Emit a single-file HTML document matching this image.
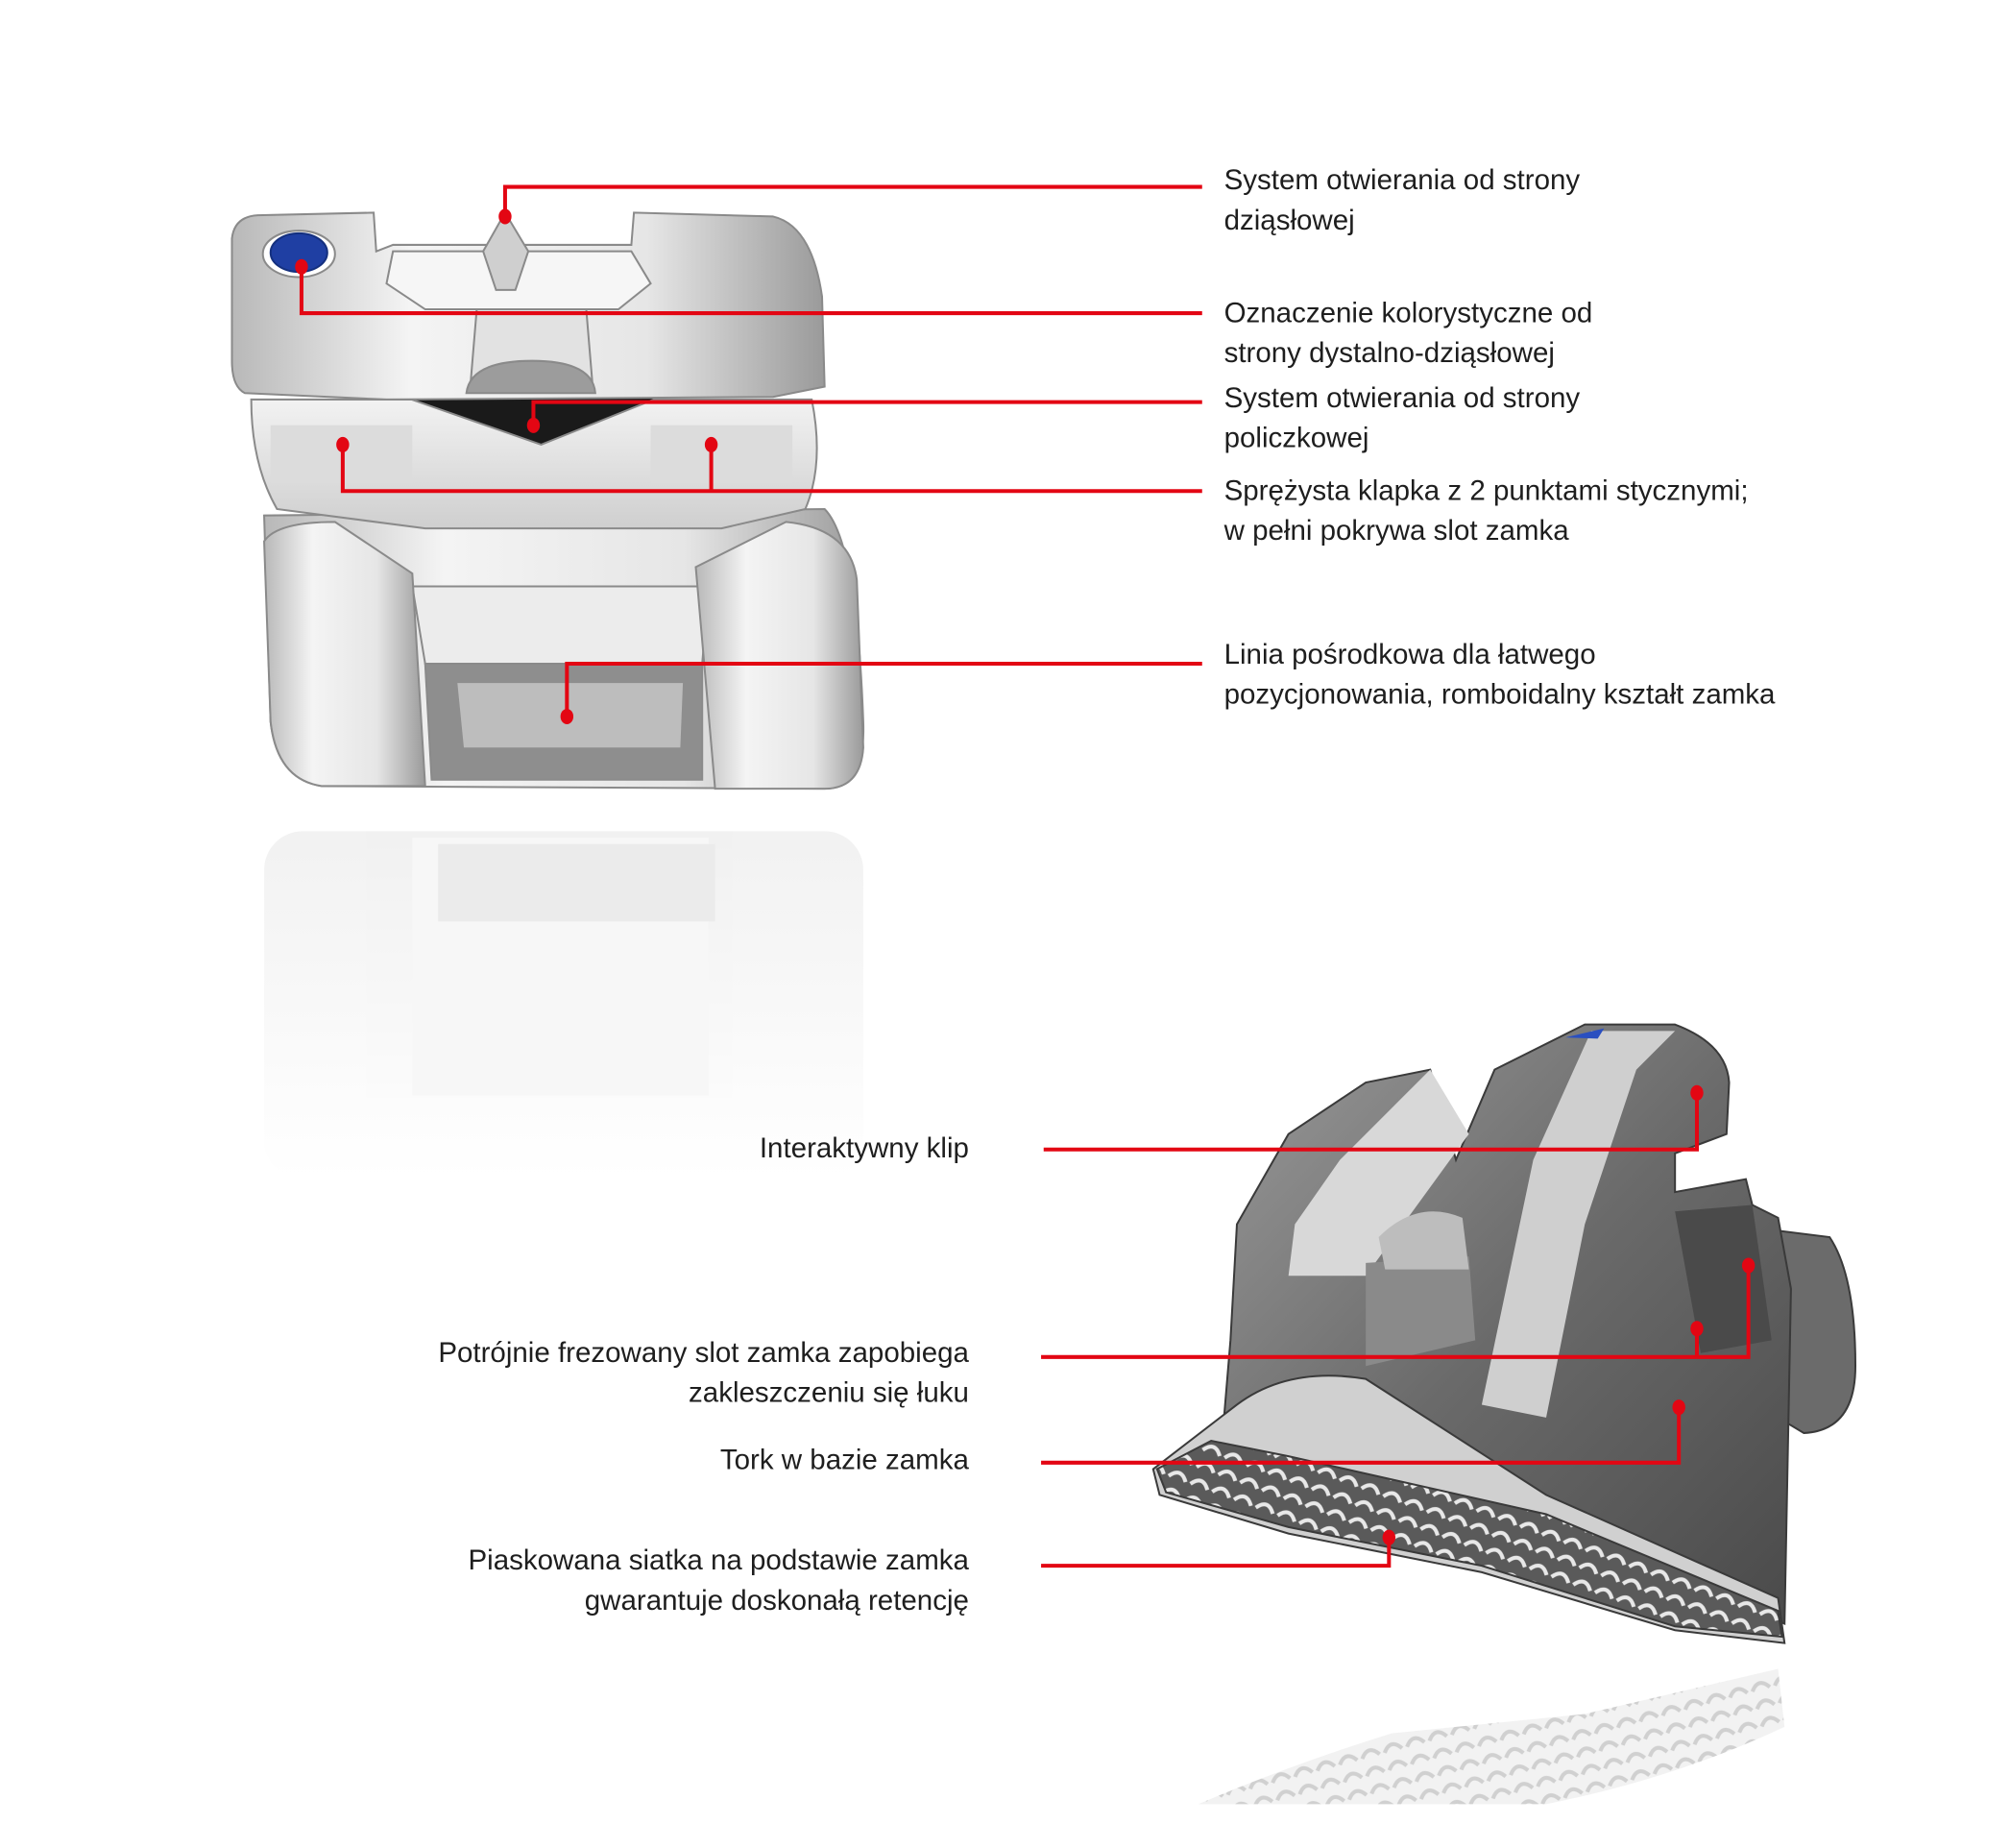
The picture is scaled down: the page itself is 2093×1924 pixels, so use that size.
<!DOCTYPE html>
<html><head><meta charset="utf-8"><style>
html,body{margin:0;padding:0;background:#fff;}
svg{display:block;}
text{font-family:"Liberation Sans",sans-serif;font-size:22px;fill:#1e1e1e;}
</style></head><body>
<svg width="2093" height="1924" viewBox="0 0 1560 1434" xmlns="http://www.w3.org/2000/svg">
<defs>
<linearGradient id="lg" x1="0" y1="0" x2="1" y2="0">
<stop offset="0" stop-color="#b8b8b8"/><stop offset="0.3" stop-color="#f4f4f4"/><stop offset="0.7" stop-color="#e6e6e6"/><stop offset="1" stop-color="#9a9a9a"/></linearGradient>
<linearGradient id="lgv" x1="0" y1="0" x2="0" y2="1">
<stop offset="0" stop-color="#f2f2f2"/><stop offset="1" stop-color="#cfcfcf"/></linearGradient>
<linearGradient id="dk" x1="0" y1="0" x2="1" y2="1">
<stop offset="0" stop-color="#9a9a9a"/><stop offset="0.5" stop-color="#6a6a6a"/><stop offset="1" stop-color="#4a4a4a"/></linearGradient>
<linearGradient id="refl" x1="0" y1="0" x2="0" y2="1">
<stop offset="0" stop-color="#e4e4e4"/><stop offset="1" stop-color="#ffffff"/></linearGradient>
<pattern id="mesh" width="18" height="14" patternUnits="userSpaceOnUse" patternTransform="rotate(20)">
<rect width="18" height="14" fill="#5a5a5a"/><path d="M2 10 Q9 0 16 10" stroke="#e8e8e8" stroke-width="3" fill="none"/></pattern>
<pattern id="mesh2" width="18" height="14" patternUnits="userSpaceOnUse" patternTransform="rotate(-15)">
<rect width="18" height="14" fill="#eaeaea"/><path d="M2 10 Q9 0 16 10" stroke="#b0b0b0" stroke-width="3" fill="none"/></pattern>
</defs>

<g opacity="0.5">
<rect x="205" y="645" width="465" height="270" rx="30" fill="url(#refl)"/>
<rect x="320" y="650" width="230" height="200" fill="#f0f0f0"/>
<rect x="340" y="655" width="215" height="60" fill="#d8d8d8"/>
</g>

<g stroke="#8a8a8a" stroke-width="1.5">
<path d="M205 400 L640 395 Q665 420 670 560 Q672 612 640 612 L250 610 Q215 605 210 560 Z" fill="url(#lg)"/>
<path d="M320 455 L550 455 L545 515 L330 515 Z" fill="#ececec"/>
<path d="M330 515 L545 515 L545 605 L335 605 Z" fill="#8e8e8e"/>
<path d="M355 530 L530 530 L528 580 L360 580 Z" fill="#bdbdbd" stroke="none"/>
<path d="M205 420 Q215 405 260 405 L320 445 L330 610 L250 610 Q215 605 210 560 Z" fill="url(#lg)"/>
<path d="M540 440 L610 405 Q660 410 665 450 L670 580 Q668 612 640 612 L555 612 Z" fill="url(#lg)"/>
<path d="M195 310 L630 310 Q640 360 625 395 L560 410 L330 410 L215 395 Q195 360 195 310 Z" fill="url(#lgv)"/>
<path d="M210 330 L320 330 L320 375 L210 375 Z" fill="#dcdcdc" stroke="none"/>
<path d="M505 330 L615 330 L615 375 L505 375 Z" fill="#dcdcdc" stroke="none"/>
<path d="M305 305 L520 305 L420 345 Z" fill="#1a1a1a"/>
<path d="M180 185 Q182 168 200 167 L290 165 L292 195 L305 190 L490 190 L492 165 L600 168 Q630 175 638 230 L640 300 L600 308 L300 310 L190 305 Q180 300 180 280 Z" fill="url(#lg)"/>
<path d="M305 195 L490 195 L505 220 L480 240 L330 240 L300 220 Z" fill="#f6f6f6"/>
<path d="M370 240 L455 240 L460 300 L365 300 Z" fill="#e2e2e2"/>
<path d="M375 195 L392 165 L410 195 L400 225 L385 225 Z" fill="#cfcfcf"/>
<path d="M362 305 Q365 280 413 280 Q460 280 462 305 Z" fill="#9c9c9c"/>
<ellipse cx="232" cy="197" rx="28" ry="18" fill="#ffffff"/>
<ellipse cx="232" cy="196" rx="22" ry="15" fill="#1f3fa3" stroke="#14307f"/>
</g>

<path d="M930 1400 Q1000 1370 1080 1345 L1230 1330 L1380 1295 L1385 1340 Q1300 1380 1200 1400 Z" fill="url(#mesh2)" opacity="0.6"/>

<g stroke="#3a3a3a" stroke-width="1.5">
<path d="M1340 950 L1420 960 Q1440 990 1440 1060 Q1440 1110 1400 1112 L1380 1100 Z" fill="#6b6b6b"/>
<path d="M1130 900 L1160 830 L1230 795 L1300 795 Q1340 810 1342 840 L1340 880 L1300 895 L1300 925 L1355 915 L1360 935 L1380 945 L1390 1000 L1385 1260 L1250 1200 L1000 1080 L950 1100 L955 1040 L960 950 L1000 880 L1060 840 L1110 830 Z" fill="url(#dk)"/>
<path d="M1190 900 L1235 800 L1300 800 L1270 830 L1230 950 L1200 1100 L1150 1090 Z" fill="#cfcfcf" stroke="none"/>
<path d="M1040 900 L1110 830 L1140 880 L1060 990 L1000 990 L1005 950 Z" fill="#d8d8d8" stroke="none"/>
<path d="M1060 980 L1140 975 L1145 1040 L1060 1060 Z" fill="#8a8a8a" stroke="none"/>
<path d="M1070 960 Q1100 930 1135 945 L1140 985 L1075 985 Z" fill="#bdbdbd" stroke="none"/>
<path d="M1300 940 L1360 935 L1375 1040 L1320 1050 Z" fill="#4a4a4a" stroke="none"/>
<path d="M960 1090 Q1000 1060 1060 1070 L1200 1160 L1380 1240 L1385 1275 L1300 1265 L1150 1220 L1000 1190 L900 1160 L895 1140 Z" fill="#d0d0d0"/>
<path d="M898 1140 L940 1118 L1000 1130 L1200 1175 L1380 1250 L1383 1270 L1300 1262 L1150 1215 L1000 1185 L905 1158 Z" fill="url(#mesh)"/>
<path d="M1215 805 L1245 798 L1240 806 Z" fill="#2a4fc0" stroke="none"/>
</g>

<g stroke="#e30613" stroke-width="3" fill="none">
<polyline points="933,145 392,145 392,168"/>
<polyline points="933,243 234,243 234,207"/>
<polyline points="933,312 414,312 414,330"/>
<polyline points="933,381 266,381 266,345"/>
<line x1="552" y1="381" x2="552" y2="345"/>
<polyline points="933,515 440,515 440,556"/>
<polyline points="810,892 1317,892 1317,848"/>
<polyline points="808,1053 1357,1053 1357,982"/>
<line x1="1317" y1="1053" x2="1317" y2="1031"/>
<polyline points="808,1135 1303,1135 1303,1092"/>
<polyline points="808,1215 1078,1215 1078,1193"/>
</g>
<g fill="#e30613">
<ellipse cx="392" cy="168" rx="5" ry="6"/>
<ellipse cx="234" cy="207" rx="5" ry="6"/>
<ellipse cx="414" cy="330" rx="5" ry="6"/>
<ellipse cx="266" cy="345" rx="5" ry="6"/>
<ellipse cx="552" cy="345" rx="5" ry="6"/>
<ellipse cx="440" cy="556" rx="5" ry="6"/>
<ellipse cx="1317" cy="848" rx="5" ry="6"/>
<ellipse cx="1357" cy="982" rx="5" ry="6"/>
<ellipse cx="1317" cy="1031" rx="5" ry="6"/>
<ellipse cx="1303" cy="1092" rx="5" ry="6"/>
<ellipse cx="1078" cy="1193" rx="5" ry="6"/>
</g>

<g>
<text x="950" y="147">System otwierania od strony</text>
<text x="950" y="178">dziąsłowej</text>
<text x="950" y="250">Oznaczenie kolorystyczne od</text>
<text x="950" y="281">strony dystalno-dziąsłowej</text>
<text x="950" y="316">System otwierania od strony</text>
<text x="950" y="347">policzkowej</text>
<text x="950" y="388">Sprężysta klapka z 2 punktami stycznymi;</text>
<text x="950" y="419">w pełni pokrywa slot zamka</text>
<text x="950" y="515">Linia pośrodkowa dla łatwego</text>
<text x="950" y="546">pozycjonowania, romboidalny kształt zamka</text>
</g>
<g text-anchor="end">
<text x="752" y="898">Interaktywny klip</text>
<text x="752" y="1057">Potrójnie frezowany slot zamka zapobiega</text>
<text x="752" y="1088">zakleszczeniu się łuku</text>
<text x="752" y="1140">Tork w bazie zamka</text>
<text x="752" y="1218">Piaskowana siatka na podstawie zamka</text>
<text x="752" y="1249">gwarantuje doskonałą retencję</text>
</g>
</svg>
</body></html>
